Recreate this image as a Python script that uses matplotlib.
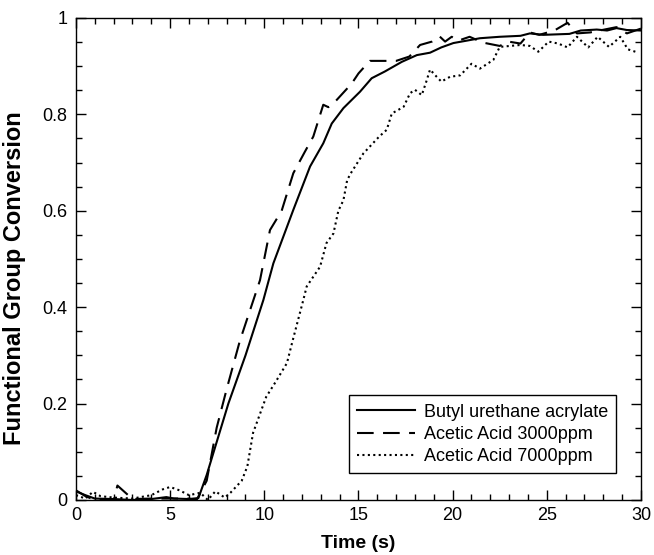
import matplotlib
matplotlib.use('Agg')
import matplotlib.pyplot as plt
from matplotlib.ticker import MultipleLocator

plt.rcParams['font.family'] = ['Liberation Sans', 'DejaVu Sans']

# Butyl urethane acrylate (solid)
t_bua = [0, 0.5, 1, 2, 3, 4, 4.8, 5.2, 6, 6.5, 6.94, 8.09, 9.0, 9.95, 10.48, 11.54,
         12.43, 13.13, 13.58, 14.2, 15.08, 15.7, 16.4, 17.3, 18.1, 18.8, 19.4,
         20.04, 20.75, 21.45, 22.5, 23.6, 24.1, 24.8, 26.2, 26.8, 27.65, 28.2,
         28.7, 29.25, 30]
y_bua = [0.018, 0.01, 0.003, 0.002, 0.0, 0.002, 0.006, 0.003, 0.002, 0.004, 0.052,
         0.2, 0.3, 0.415, 0.491, 0.602, 0.692, 0.74, 0.781, 0.813, 0.847, 0.875,
         0.889, 0.909, 0.923, 0.928, 0.939, 0.948, 0.953, 0.958, 0.961, 0.963,
         0.968, 0.965, 0.967, 0.974, 0.976, 0.974, 0.979, 0.975, 0.974]

# Acetic Acid 3000ppm (dashed)
t_aa3 = [0, 0.5, 1, 2, 2.2, 3, 4, 5, 6, 6.4, 6.94, 7.47, 8.0, 8.7, 9.77, 10.3,
         10.92, 11.54, 12.16, 12.6, 13.13, 13.4, 13.75, 14.64, 15.0, 15.6, 16.3,
         17.0, 17.7, 18.27, 18.9, 19.3, 19.6, 19.95, 20.3, 20.9, 21.6, 22.5,
         22.96, 23.6, 24.1, 24.6, 25.4, 26.1, 26.6, 27.3, 27.8, 28.7, 29.25, 30]
y_aa3 = [0.02, 0.008, 0.0, 0.0, 0.03, 0.002, 0.003, 0.003, 0.003, 0.0, 0.04,
         0.15, 0.23, 0.33, 0.456, 0.56, 0.60, 0.678, 0.723, 0.754, 0.82, 0.815,
         0.826, 0.864, 0.885, 0.911, 0.911, 0.911, 0.92, 0.944, 0.951, 0.962,
         0.951, 0.961, 0.953, 0.961, 0.949, 0.942, 0.951, 0.947, 0.97, 0.965,
         0.974, 0.99, 0.968, 0.97, 0.974, 0.981, 0.968, 0.978]

# Acetic Acid 7000ppm (dotted)
t_aa7 = [0, 0.5, 0.9, 1.3, 2, 3, 4, 4.6, 5.0, 5.5, 6, 6.6, 7.0, 7.4, 7.9, 8.2,
         8.8, 9.1, 9.4, 10.1, 10.6, 11.2, 11.5, 12.07, 12.25, 12.96, 13.3, 13.67,
         13.93, 14.2, 14.4, 14.64, 15.26, 16.1, 16.5, 16.77, 17.1, 17.4, 17.74,
         18.0, 18.36, 18.6, 18.8, 19.15, 19.4, 19.86, 20.4, 20.75, 21.0, 21.45,
         22.16, 22.5, 23.05, 23.6, 24.1, 24.55, 25.1, 25.6, 26.1, 26.6, 27.2,
         27.7, 28.3, 28.9, 29.3, 29.86]
y_aa7 = [0.01, 0.003, 0.017, 0.008, 0.005, 0.003, 0.01, 0.022, 0.027, 0.02, 0.01,
         0.015, 0.0, 0.018, 0.005, 0.015, 0.04, 0.07, 0.139, 0.214, 0.245, 0.284,
         0.33, 0.415, 0.443, 0.484, 0.533, 0.553, 0.60, 0.622, 0.664, 0.681,
         0.719, 0.754, 0.768, 0.802, 0.809, 0.816, 0.844, 0.851, 0.84, 0.868,
         0.893, 0.878, 0.868, 0.878, 0.881, 0.895, 0.905, 0.895, 0.913, 0.94,
         0.942, 0.944, 0.942, 0.93, 0.951, 0.947, 0.939, 0.961, 0.939, 0.961,
         0.94, 0.961, 0.935, 0.928]

labels = ['Butyl urethane acrylate', 'Acetic Acid 3000ppm', 'Acetic Acid 7000ppm']

fig = plt.figure(figsize=(6.54, 5.55), dpi=100)
ax = fig.add_axes([0.1162, 0.0991, 0.8639, 0.8685])

ax.plot(t_bua, y_bua, color='black', lw=1.5, ls='-', label=labels[0])
ax.plot(t_aa3, y_aa3, color='black', lw=1.5, ls=(0, (8, 4.5)), label=labels[1])
ax.plot(t_aa7, y_aa7, color='black', lw=1.5, ls=(0, (1, 1.6)), label=labels[2])

ax.set_xlim(0, 30)
ax.set_ylim(0, 1)
ax.xaxis.set_major_locator(MultipleLocator(5))
ax.xaxis.set_minor_locator(MultipleLocator(1))
ax.yaxis.set_minor_locator(MultipleLocator(0.05))
ax.set_yticks([0, 0.2, 0.4, 0.6, 0.8, 1.0])
ax.set_yticklabels(['0', '0.2', '0.4', '0.6', '0.8', '1'])
ax.tick_params(which='both', direction='in', top=True, right=True, labelsize=13, width=1)
ax.tick_params(axis='y', pad=6)
ax.tick_params(axis='x', pad=5)
ax.tick_params(which='major', length=7)
ax.tick_params(which='minor', length=4)
for s in ax.spines.values():
    s.set_linewidth(1)

ax.set_xlabel('Time (s)', fontsize=14, fontweight='bold', labelpad=8)
ax.set_ylabel('Functional Group Conversion', fontsize=17, fontweight='bold')
ax.yaxis.set_label_coords(-0.088, 0.46)

leg = ax.legend(loc='lower right', bbox_to_anchor=(0.956, 0.055), borderaxespad=0,
                fontsize=13, handlelength=3.2, labelspacing=0.3, handletextpad=0.5,
                fancybox=False, edgecolor='black', framealpha=1, borderpad=0.45)
leg.get_frame().set_linewidth(1)

fig.savefig('out.png', dpi=100)
